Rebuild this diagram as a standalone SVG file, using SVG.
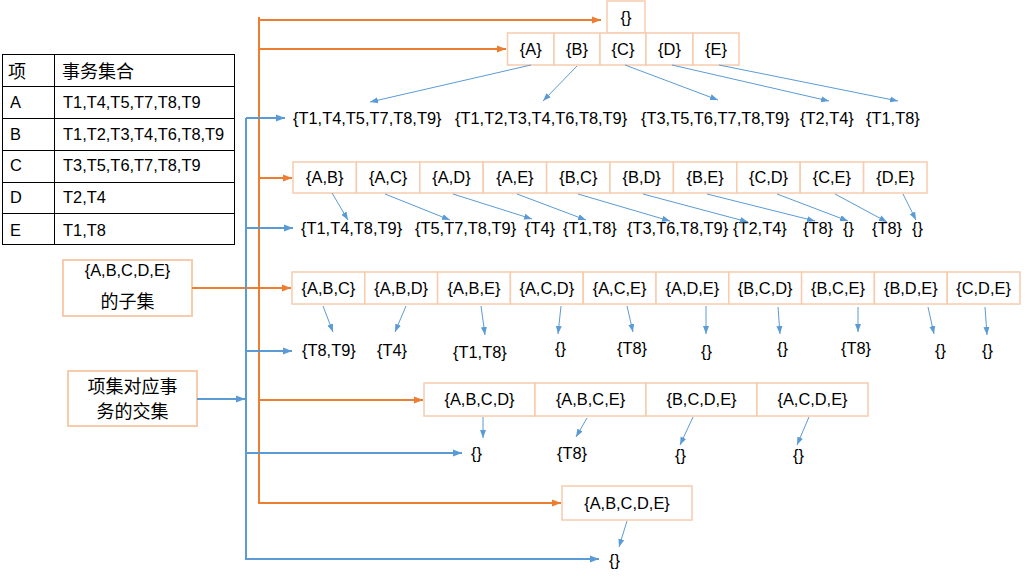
<svg xmlns="http://www.w3.org/2000/svg" width="1028" height="581" viewBox="0 0 1028 581">
  <style>
    text { font-family: "Liberation Sans", Arial, "Noto Sans CJK SC", sans-serif; font-size: 16.4px; fill: #000; }
    .cjk { font-family: "Noto Sans CJK SC", "Liberation Sans", sans-serif; font-size: 18px; }
    .mid { text-anchor: middle; }
    .cell { fill: #fff; stroke: #F8CBAD; stroke-width: 1.5; }
    .label { fill: #fff; stroke: #F8CBAD; stroke-width: 2; }
    .tbl { fill: none; stroke: #000; stroke-width: 1; }
    .or { fill: none; stroke: #ED7D31; stroke-width: 2; }
    .bl { fill: none; stroke: #5B9BD5; stroke-width: 2; }
    .bt { fill: none; stroke: #5B9BD5; stroke-width: 1; }
  </style>
  <defs>
    <marker id="arrO" markerUnits="userSpaceOnUse" markerWidth="10" markerHeight="8" refX="9" refY="4" orient="auto">
      <path d="M0,0.5 L9,4 L0,7.5 z" fill="#ED7D31"/>
    </marker>
    <marker id="arrB" markerUnits="userSpaceOnUse" markerWidth="10" markerHeight="8" refX="9" refY="4" orient="auto">
      <path d="M0,0.5 L9,4 L0,7.5 z" fill="#5B9BD5"/>
    </marker>
    <marker id="arrBs" markerUnits="userSpaceOnUse" markerWidth="9" markerHeight="8" refX="8" refY="4" orient="auto">
      <path d="M0,1 L8,4 L0,7 z" fill="#5B9BD5"/>
    </marker>
  </defs>

  <!-- item / transaction table -->
  <g id="table">
    <rect class="tbl" x="2.5" y="54.5" width="232" height="190"/>
    <line class="tbl" x1="54.5" y1="54.5" x2="54.5" y2="244.5"/>
    <line class="tbl" x1="2.5" y1="86.5" x2="234.5" y2="86.5"/>
    <line class="tbl" x1="2.5" y1="118.5" x2="234.5" y2="118.5"/>
    <line class="tbl" x1="2.5" y1="150.5" x2="234.5" y2="150.5"/>
    <line class="tbl" x1="2.5" y1="182.5" x2="234.5" y2="182.5"/>
    <line class="tbl" x1="2.5" y1="213.5" x2="234.5" y2="213.5"/>
    <text class="cjk" x="8" y="78">项</text>
    <text class="cjk" x="62" y="78">事务集合</text>
    <text x="10" y="108">A</text><text x="63" y="108">T1,T4,T5,T7,T8,T9</text>
    <text x="10" y="140">B</text><text x="63" y="140">T1,T2,T3,T4,T6,T8,T9</text>
    <text x="10" y="171">C</text><text x="63" y="171">T3,T5,T6,T7,T8,T9</text>
    <text x="10" y="203">D</text><text x="63" y="203">T2,T4</text>
    <text x="10" y="236">E</text><text x="63" y="236">T1,T8</text>
  </g>

  <!-- side labels -->
  <g id="label-subsets">
    <rect class="label" x="63" y="260" width="129" height="56"/>
    <text class="mid" x="127.5" y="276">{A,B,C,D,E}</text>
    <text class="cjk mid" x="127.5" y="308">的子集</text>
  </g>
  <g id="label-intersections">
    <rect class="label" x="68" y="371" width="129" height="55"/>
    <text class="cjk mid" x="132.5" y="393">项集对应事</text>
    <text class="cjk mid" x="132.5" y="418">务的交集</text>
  </g>

  <!-- level 0 -->
  <g id="set-empty">
    <rect class="cell" x="607" y="1" width="38" height="32"/>
    <text class="mid" x="626" y="23">{}</text>
  </g>

  <!-- level 1 -->
  <g id="set-A"><rect class="cell" x="507.5" y="33" width="46.5" height="32"/><text class="mid" x="530.75" y="55">{A}</text></g>
  <g id="set-B"><rect class="cell" x="554" y="33" width="46" height="32"/><text class="mid" x="577" y="55">{B}</text></g>
  <g id="set-C"><rect class="cell" x="600" y="33" width="46" height="32"/><text class="mid" x="623" y="55">{C}</text></g>
  <g id="set-D"><rect class="cell" x="646" y="33" width="47" height="32"/><text class="mid" x="669.5" y="55">{D}</text></g>
  <g id="set-E"><rect class="cell" x="693" y="33" width="46" height="32"/><text class="mid" x="716" y="55">{E}</text></g>

  <g id="tx-level1">
    <text x="293" y="124">{T1,T4,T5,T7,T8,T9}</text>
    <text x="455" y="124">{T1,T2,T3,T4,T6,T8,T9}</text>
    <text x="641" y="124">{T3,T5,T6,T7,T8,T9}</text>
    <text x="800" y="124">{T2,T4}</text>
    <text x="866" y="124">{T1,T8}</text>
  </g>

  <!-- level 2 -->
  <g id="set-AB"><rect class="cell" x="293" y="162" width="63.4" height="31"/><text class="mid" x="324.7" y="183">{A,B}</text></g>
  <g id="set-AC"><rect class="cell" x="356.4" y="162" width="63.4" height="31"/><text class="mid" x="388.1" y="183">{A,C}</text></g>
  <g id="set-AD"><rect class="cell" x="419.8" y="162" width="63.4" height="31"/><text class="mid" x="451.5" y="183">{A,D}</text></g>
  <g id="set-AE"><rect class="cell" x="483.2" y="162" width="63.4" height="31"/><text class="mid" x="514.9" y="183">{A,E}</text></g>
  <g id="set-BC"><rect class="cell" x="546.6" y="162" width="63.4" height="31"/><text class="mid" x="578.3" y="183">{B,C}</text></g>
  <g id="set-BD"><rect class="cell" x="610" y="162" width="63.4" height="31"/><text class="mid" x="641.7" y="183">{B,D}</text></g>
  <g id="set-BE"><rect class="cell" x="673.4" y="162" width="63.4" height="31"/><text class="mid" x="705.1" y="183">{B,E}</text></g>
  <g id="set-CD"><rect class="cell" x="736.8" y="162" width="63.4" height="31"/><text class="mid" x="768.5" y="183">{C,D}</text></g>
  <g id="set-CE"><rect class="cell" x="800.2" y="162" width="63.4" height="31"/><text class="mid" x="831.9" y="183">{C,E}</text></g>
  <g id="set-DE"><rect class="cell" x="863.6" y="162" width="63.4" height="31"/><text class="mid" x="895.3" y="183">{D,E}</text></g>

  <g id="tx-level2">
    <text x="301" y="234">{T1,T4,T8,T9}</text>
    <text x="415" y="234">{T5,T7,T8,T9}</text>
    <text x="525" y="234">{T4}</text>
    <text x="563" y="234">{T1,T8}</text>
    <text x="627" y="234">{T3,T6,T8,T9}</text>
    <text x="733" y="234">{T2,T4}</text>
    <text x="803" y="234">{T8}</text>
    <text x="843" y="234">{}</text>
    <text x="872" y="234">{T8}</text>
    <text x="912" y="234">{}</text>
  </g>

  <!-- level 3 -->
  <g id="set-ABC"><rect class="cell" x="292" y="272" width="72.8" height="32"/><text class="mid" x="328.4" y="294">{A,B,C}</text></g>
  <g id="set-ABD"><rect class="cell" x="364.8" y="272" width="72.8" height="32"/><text class="mid" x="401.2" y="294">{A,B,D}</text></g>
  <g id="set-ABE"><rect class="cell" x="437.6" y="272" width="72.8" height="32"/><text class="mid" x="474" y="294">{A,B,E}</text></g>
  <g id="set-ACD"><rect class="cell" x="510.4" y="272" width="72.8" height="32"/><text class="mid" x="546.8" y="294">{A,C,D}</text></g>
  <g id="set-ACE"><rect class="cell" x="583.2" y="272" width="72.8" height="32"/><text class="mid" x="619.6" y="294">{A,C,E}</text></g>
  <g id="set-ADE"><rect class="cell" x="656" y="272" width="72.8" height="32"/><text class="mid" x="692.4" y="294">{A,D,E}</text></g>
  <g id="set-BCD"><rect class="cell" x="728.8" y="272" width="72.8" height="32"/><text class="mid" x="765.2" y="294">{B,C,D}</text></g>
  <g id="set-BCE"><rect class="cell" x="801.6" y="272" width="72.8" height="32"/><text class="mid" x="838" y="294">{B,C,E}</text></g>
  <g id="set-BDE"><rect class="cell" x="874.4" y="272" width="72.8" height="32"/><text class="mid" x="910.8" y="294">{B,D,E}</text></g>
  <g id="set-CDE"><rect class="cell" x="947.2" y="272" width="72.8" height="32"/><text class="mid" x="983.6" y="294">{C,D,E}</text></g>

  <g id="tx-level3">
    <text x="302" y="356">{T8,T9}</text>
    <text x="377" y="356">{T4}</text>
    <text x="453" y="358">{T1,T8}</text>
    <text x="555" y="354">{}</text>
    <text x="617" y="354">{T8}</text>
    <text x="701" y="357">{}</text>
    <text x="777" y="354">{}</text>
    <text x="841" y="354">{T8}</text>
    <text x="935" y="356">{}</text>
    <text x="982" y="356">{}</text>
  </g>

  <!-- level 4 -->
  <g id="set-ABCD"><rect class="cell" x="424" y="383" width="111" height="33"/><text class="mid" x="479.5" y="405">{A,B,C,D}</text></g>
  <g id="set-ABCE"><rect class="cell" x="535" y="383" width="111" height="33"/><text class="mid" x="590.5" y="405">{A,B,C,E}</text></g>
  <g id="set-BCDE"><rect class="cell" x="646" y="383" width="111" height="33"/><text class="mid" x="701.5" y="405">{B,C,D,E}</text></g>
  <g id="set-ACDE"><rect class="cell" x="757" y="383" width="111" height="33"/><text class="mid" x="812.5" y="405">{A,C,D,E}</text></g>

  <g id="tx-level4">
    <text x="471" y="459">{}</text>
    <text x="557" y="459">{T8}</text>
    <text x="675" y="461">{}</text>
    <text x="793" y="461">{}</text>
  </g>

  <!-- level 5 -->
  <g id="set-ABCDE">
    <rect class="cell" x="562" y="486" width="130" height="34"/>
    <text class="mid" x="627" y="509">{A,B,C,D,E}</text>
  </g>
  <g id="tx-level5">
    <text x="609" y="566">{}</text>
  </g>

  <!-- connectors -->
  <g id="connectors">
    <!-- orange bus: subsets of {A,B,C,D,E} -->
    <path class="or" d="M259,17 V503 H561" marker-end="url(#arrO)"/>
    <line class="or" x1="259" y1="20" x2="601" y2="20" marker-end="url(#arrO)"/>
    <line class="or" x1="259" y1="49" x2="506" y2="49" marker-end="url(#arrO)"/>
    <line class="or" x1="259" y1="178" x2="292" y2="178" marker-end="url(#arrO)"/>
    <line class="or" x1="192" y1="288" x2="291" y2="288" marker-end="url(#arrO)"/>
    <line class="or" x1="259" y1="400" x2="423" y2="400" marker-end="url(#arrO)"/>

    <!-- blue bus: intersections of transactions -->
    <path class="bl" d="M246,118 V559 H599" marker-end="url(#arrB)"/>
    <line class="bl" x1="197" y1="399" x2="245" y2="399" marker-end="url(#arrB)"/>
    <line class="bl" x1="246" y1="118" x2="285" y2="118" marker-end="url(#arrB)"/>
    <line class="bl" x1="246" y1="228" x2="293" y2="228" marker-end="url(#arrB)"/>
    <line class="bl" x1="246" y1="351" x2="292" y2="351" marker-end="url(#arrB)"/>
    <line class="bl" x1="246" y1="453" x2="462" y2="453" marker-end="url(#arrB)"/>

    <!-- itemset to transaction set -->
    <line class="bt" x1="531" y1="65" x2="370" y2="102" marker-end="url(#arrBs)"/>
    <line class="bt" x1="577" y1="66" x2="543" y2="101" marker-end="url(#arrBs)"/>
    <line class="bt" x1="625" y1="65" x2="718" y2="100" marker-end="url(#arrBs)"/>
    <line class="bt" x1="672" y1="65" x2="829" y2="101" marker-end="url(#arrBs)"/>
    <line class="bt" x1="719" y1="65" x2="898" y2="101" marker-end="url(#arrBs)"/>

    <line class="bt" x1="332" y1="193" x2="348" y2="220" marker-end="url(#arrBs)"/>
    <line class="bt" x1="385" y1="194" x2="450" y2="220" marker-end="url(#arrBs)"/>
    <line class="bt" x1="453" y1="194" x2="532" y2="219" marker-end="url(#arrBs)"/>
    <line class="bt" x1="517" y1="194" x2="586" y2="220" marker-end="url(#arrBs)"/>
    <line class="bt" x1="578" y1="194" x2="670" y2="221" marker-end="url(#arrBs)"/>
    <line class="bt" x1="643" y1="194" x2="748" y2="222" marker-end="url(#arrBs)"/>
    <line class="bt" x1="707" y1="194" x2="815" y2="221" marker-end="url(#arrBs)"/>
    <line class="bt" x1="777" y1="194" x2="848" y2="221" marker-end="url(#arrBs)"/>
    <line class="bt" x1="835" y1="194" x2="887" y2="222" marker-end="url(#arrBs)"/>
    <line class="bt" x1="903" y1="194" x2="916" y2="220" marker-end="url(#arrBs)"/>

    <line class="bt" x1="323" y1="306" x2="333" y2="332" marker-end="url(#arrBs)"/>
    <line class="bt" x1="406" y1="306" x2="395" y2="332" marker-end="url(#arrBs)"/>
    <line class="bt" x1="481" y1="306" x2="485" y2="335" marker-end="url(#arrBs)"/>
    <line class="bt" x1="561" y1="306" x2="558" y2="334" marker-end="url(#arrBs)"/>
    <line class="bt" x1="627" y1="306" x2="633" y2="332" marker-end="url(#arrBs)"/>
    <line class="bt" x1="706" y1="306" x2="706" y2="334" marker-end="url(#arrBs)"/>
    <line class="bt" x1="778" y1="307" x2="780" y2="334" marker-end="url(#arrBs)"/>
    <line class="bt" x1="858" y1="307" x2="858" y2="332" marker-end="url(#arrBs)"/>
    <line class="bt" x1="928" y1="307" x2="934" y2="334" marker-end="url(#arrBs)"/>
    <line class="bt" x1="985" y1="307" x2="987" y2="335" marker-end="url(#arrBs)"/>

    <line class="bt" x1="483" y1="417" x2="483" y2="438" marker-end="url(#arrBs)"/>
    <line class="bt" x1="587" y1="418" x2="576" y2="437" marker-end="url(#arrBs)"/>
    <line class="bt" x1="693" y1="417" x2="680" y2="445" marker-end="url(#arrBs)"/>
    <line class="bt" x1="809" y1="417" x2="797" y2="445" marker-end="url(#arrBs)"/>

    <line class="bt" x1="627" y1="521" x2="619" y2="547" marker-end="url(#arrBs)"/>
  </g>
</svg>
